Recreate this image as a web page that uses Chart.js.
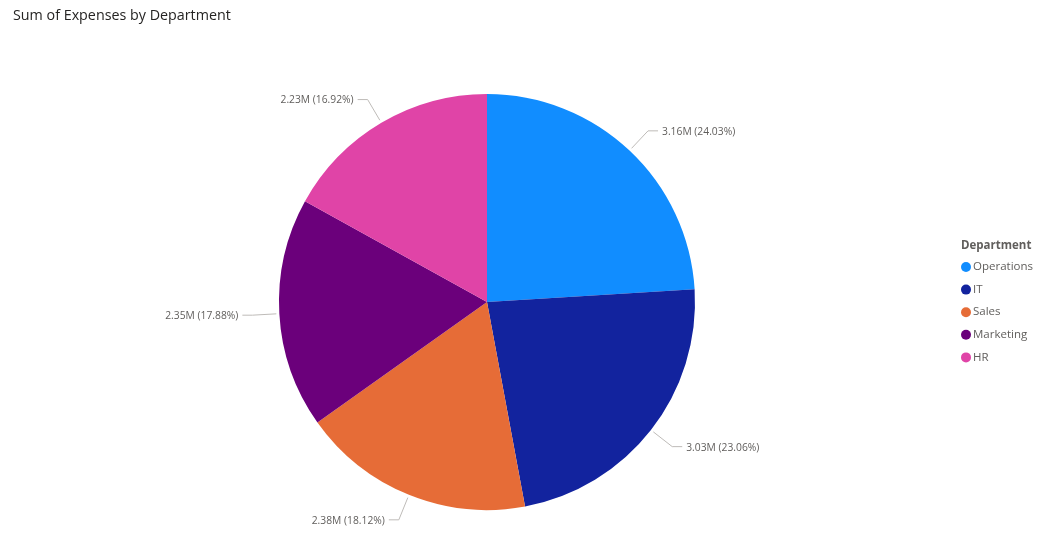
<!DOCTYPE html>
<html>
<head>
<meta charset="utf-8">
<script src="https://cdn.jsdelivr.net/npm/chart.js@4/dist/chart.umd.min.js"></script>
<style>
  html, body { margin: 0; padding: 0; background: #fff; }
  #wrap { position: relative; width: 1047px; height: 558px; }
</style>
</head>
<body>
<div id="wrap"><canvas id="expChart"></canvas></div>
<script>
// data
var departments = ['Operations', 'IT', 'Sales', 'Marketing', 'HR'];
var expenses = [3.16, 3.03, 2.38, 2.35, 2.23];
var percents = [24.03, 23.06, 18.12, 17.88, 16.92];
var colours = ['#118DFF', '#12239E', '#E66C37', '#6B007B', '#E044A7'];

var chartTitle = 'Sum of Expenses by Department';
var legendTitle = 'Department';

// leader lines + labels, title and legend
var extras = {
    id: 'extras',
    afterDraw: function (chart) {
        var ctx = chart.ctx;
        var meta = chart.getDatasetMeta(0);
        ctx.save();

        meta.data.forEach(function (arc, i) {
            var mid = (arc.startAngle + arc.endAngle) / 2;
            var r = arc.outerRadius;
            var cx = arc.x, cy = arc.y;
            var cos = Math.cos(mid), sin = Math.sin(mid);
            var x0 = cx + cos * (r + 3), y0 = cy + sin * (r + 3);
            var x1 = cx + cos * (r + 27), y1 = cy + sin * (r + 27);
            var right = cos >= 0;
            var x2 = x1 + (right ? 10 : -10);
            ctx.strokeStyle = '#BEBBB8';
            ctx.lineWidth = 1;
            ctx.beginPath();
            ctx.moveTo(x0, y0);
            ctx.lineTo(x1, y1);
            ctx.lineTo(x2, y1);
            ctx.stroke();

            ctx.fillStyle = '#605E5C';
            ctx.font = '10.3px "Open Sans", sans-serif';
            ctx.textBaseline = 'middle';
            ctx.textAlign = right ? 'left' : 'right';
            var txt = expenses[i].toFixed(2) + 'M (' + percents[i].toFixed(2) + '%)';
            ctx.fillText(txt, x2 + (right ? 4 : -4), y1 + 1);
        });

        // title
        ctx.fillStyle = '#252423';
        ctx.font = '500 14.3px "Open Sans", sans-serif';
        ctx.textAlign = 'left';
        ctx.textBaseline = 'middle';
        ctx.fillText(chartTitle, 13, 16);

        // legend
        ctx.fillStyle = '#605E5C';
        ctx.font = 'bold 11.5px "Open Sans", sans-serif';
        ctx.fillText(legendTitle, 961, 246);
        ctx.font = '11.5px "Open Sans", sans-serif';
        departments.forEach(function (d, i) {
            var y = 267 + i * 22.6;
            ctx.fillStyle = colours[i];
            ctx.beginPath();
            ctx.arc(966, y, 5, 0, Math.PI * 2);
            ctx.fill();
            ctx.fillStyle = '#605E5C';
            ctx.fillText(d, 973, y);
        });

        ctx.restore();
    }
};

var ctx = document.getElementById('expChart');
var expChart = new Chart(ctx, {
    type: 'pie',
    data: {
        labels: departments,
        datasets: [{
            label: 'Sum of Expenses',
            data: expenses,
            backgroundColor: colours,
            borderWidth: 0
        }]
    },
    options: {
        responsive: true,
        maintainAspectRatio: false,
        animation: false,
        layout: {
            padding: { top: 94, bottom: 48, left: 100, right: 173 }
        },
        plugins: {
            legend: { display: false },
            tooltip: { enabled: false }
        }
    },
    plugins: [extras]
});
</script>
</body>
</html>
